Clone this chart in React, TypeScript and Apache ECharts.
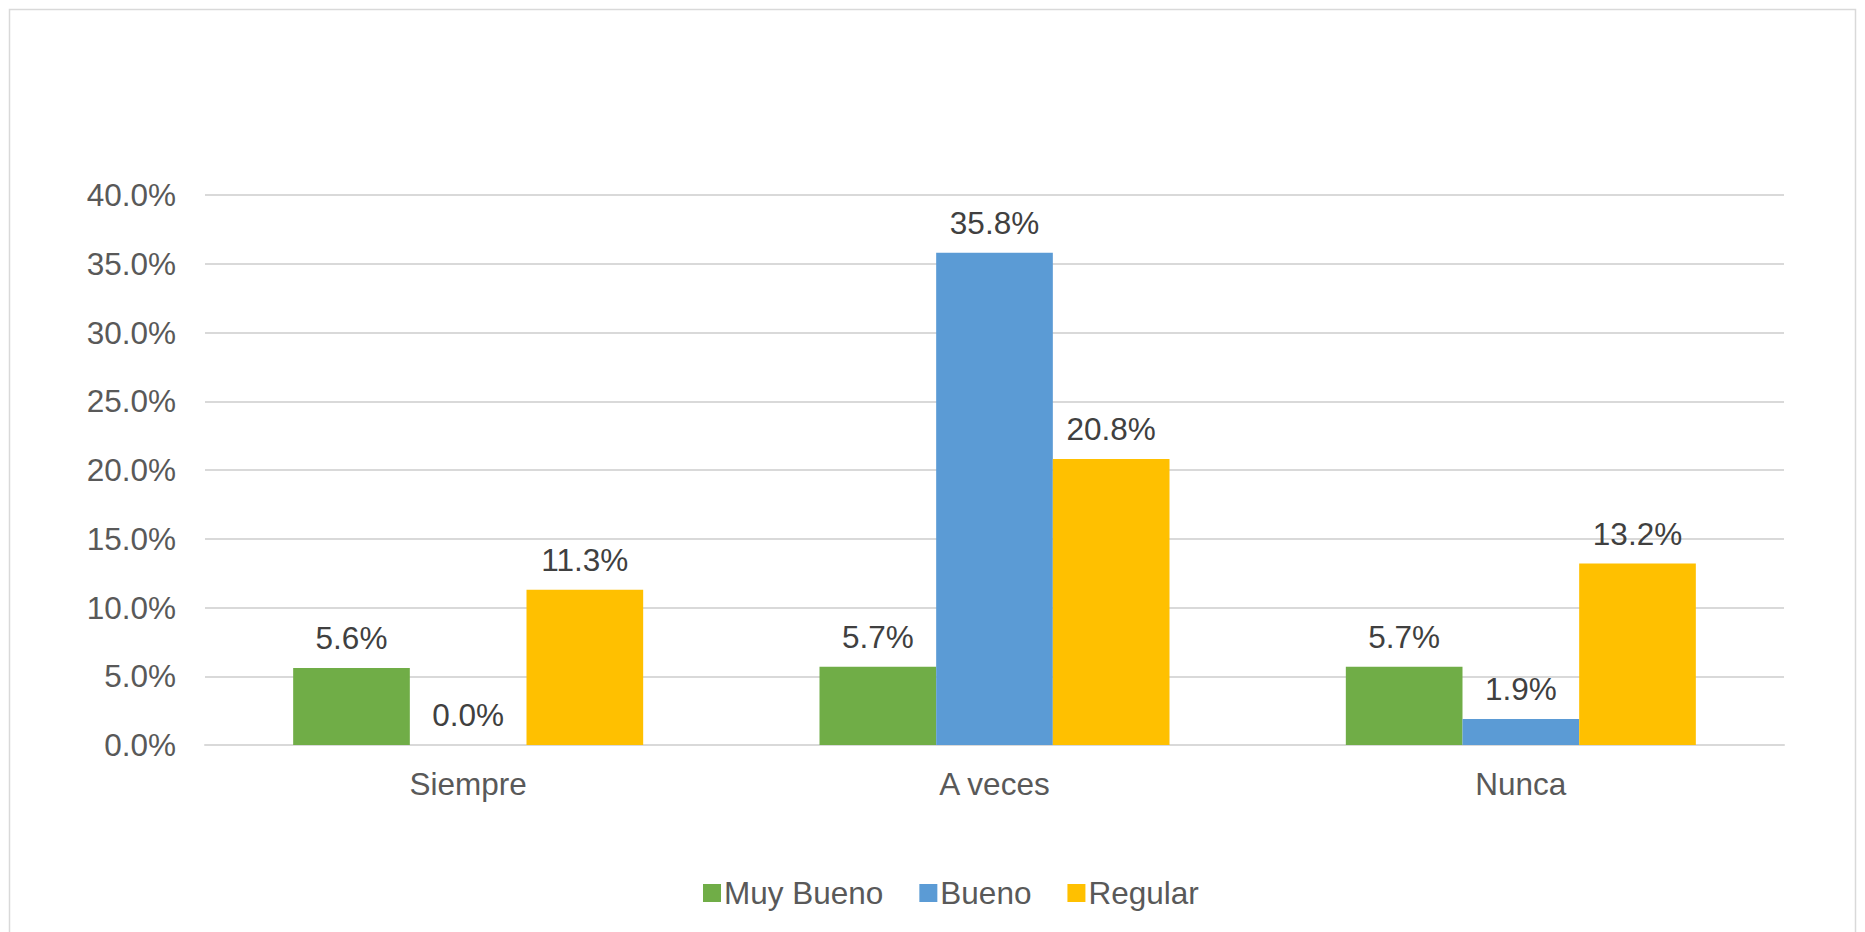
import React, { useEffect, useRef } from "react";
import * as echarts from "echarts";

const categories = ["Siempre", "A veces", "Nunca"];
const seriesNames = ["Muy Bueno", "Bueno", "Regular"];
const muyBueno = [5.6, 5.7, 5.7];
const bueno = [0.0, 35.8, 1.9];
const regular = [11.3, 20.8, 13.2];
const colors = ["#70AD47", "#5B9BD5", "#FFC000"];

const FONT = "'Liberation Sans', Arial, sans-serif";
const TEXT = "#595959";
const FS = 31.5;

export default function App() {
  const ref = useRef<HTMLDivElement>(null);
  useEffect(() => {
    if (!ref.current) return;
    const chart = echarts.init(ref.current, undefined, { renderer: "svg" });
    const values = [muyBueno, bueno, regular];
    chart.setOption({
      animation: false,
      backgroundColor: "#ffffff",
      textStyle: { fontFamily: FONT },
      graphic: [
        {
          type: "rect",
          shape: { x: 9.5, y: 9.5, width: 1846, height: 940 },
          style: { fill: "none", stroke: "#d9d9d9", lineWidth: 1.5 },
          silent: true,
        },
      ],
      grid: { left: 205, right: 81, top: 195, bottom: 187, containLabel: false },
      legend: {
        data: seriesNames,
        top: 877,
        left: 703,
        padding: 0,
        itemWidth: 18,
        itemHeight: 18,
        itemGap: 36,
        icon: "rect",
        textStyle: { fontFamily: FONT, fontSize: FS, color: TEXT, padding: [0, 0, 0, -2] },
      },
      xAxis: {
        type: "category",
        data: categories,
        axisLine: { show: true, lineStyle: { color: "#d9d9d9", width: 2 } },
        axisTick: { show: false },
        axisLabel: { fontFamily: FONT, fontSize: FS, color: TEXT, margin: 23 },
      },
      yAxis: {
        type: "value",
        min: 0,
        max: 40,
        interval: 5,
        axisLine: { show: false },
        axisTick: { show: false },
        splitLine: { lineStyle: { color: "#d9d9d9", width: 2 } },
        axisLabel: {
          fontFamily: FONT,
          fontSize: FS,
          color: TEXT,
          margin: 29,
          formatter: (v: number) => v.toFixed(1) + "%",
        },
      },
      series: seriesNames.map((name, i) => ({
        name,
        type: "bar",
        data: values[i],
        barGap: "0%",
        barCategoryGap: "33.5%",
        itemStyle: { color: colors[i] },
        label: {
          show: true,
          position: "top",
          distance: 14,
          fontFamily: FONT,
          fontSize: FS,
          color: "#404040",
          formatter: (p: any) => Number(p.value).toFixed(1) + "%",
        },
      })),
    });
    return () => chart.dispose();
  }, []);
  return (
    <div
      ref={ref}
      style={{ position: "fixed", left: 0, top: 0, width: 1865, height: 932 }}
    />
  );
}
